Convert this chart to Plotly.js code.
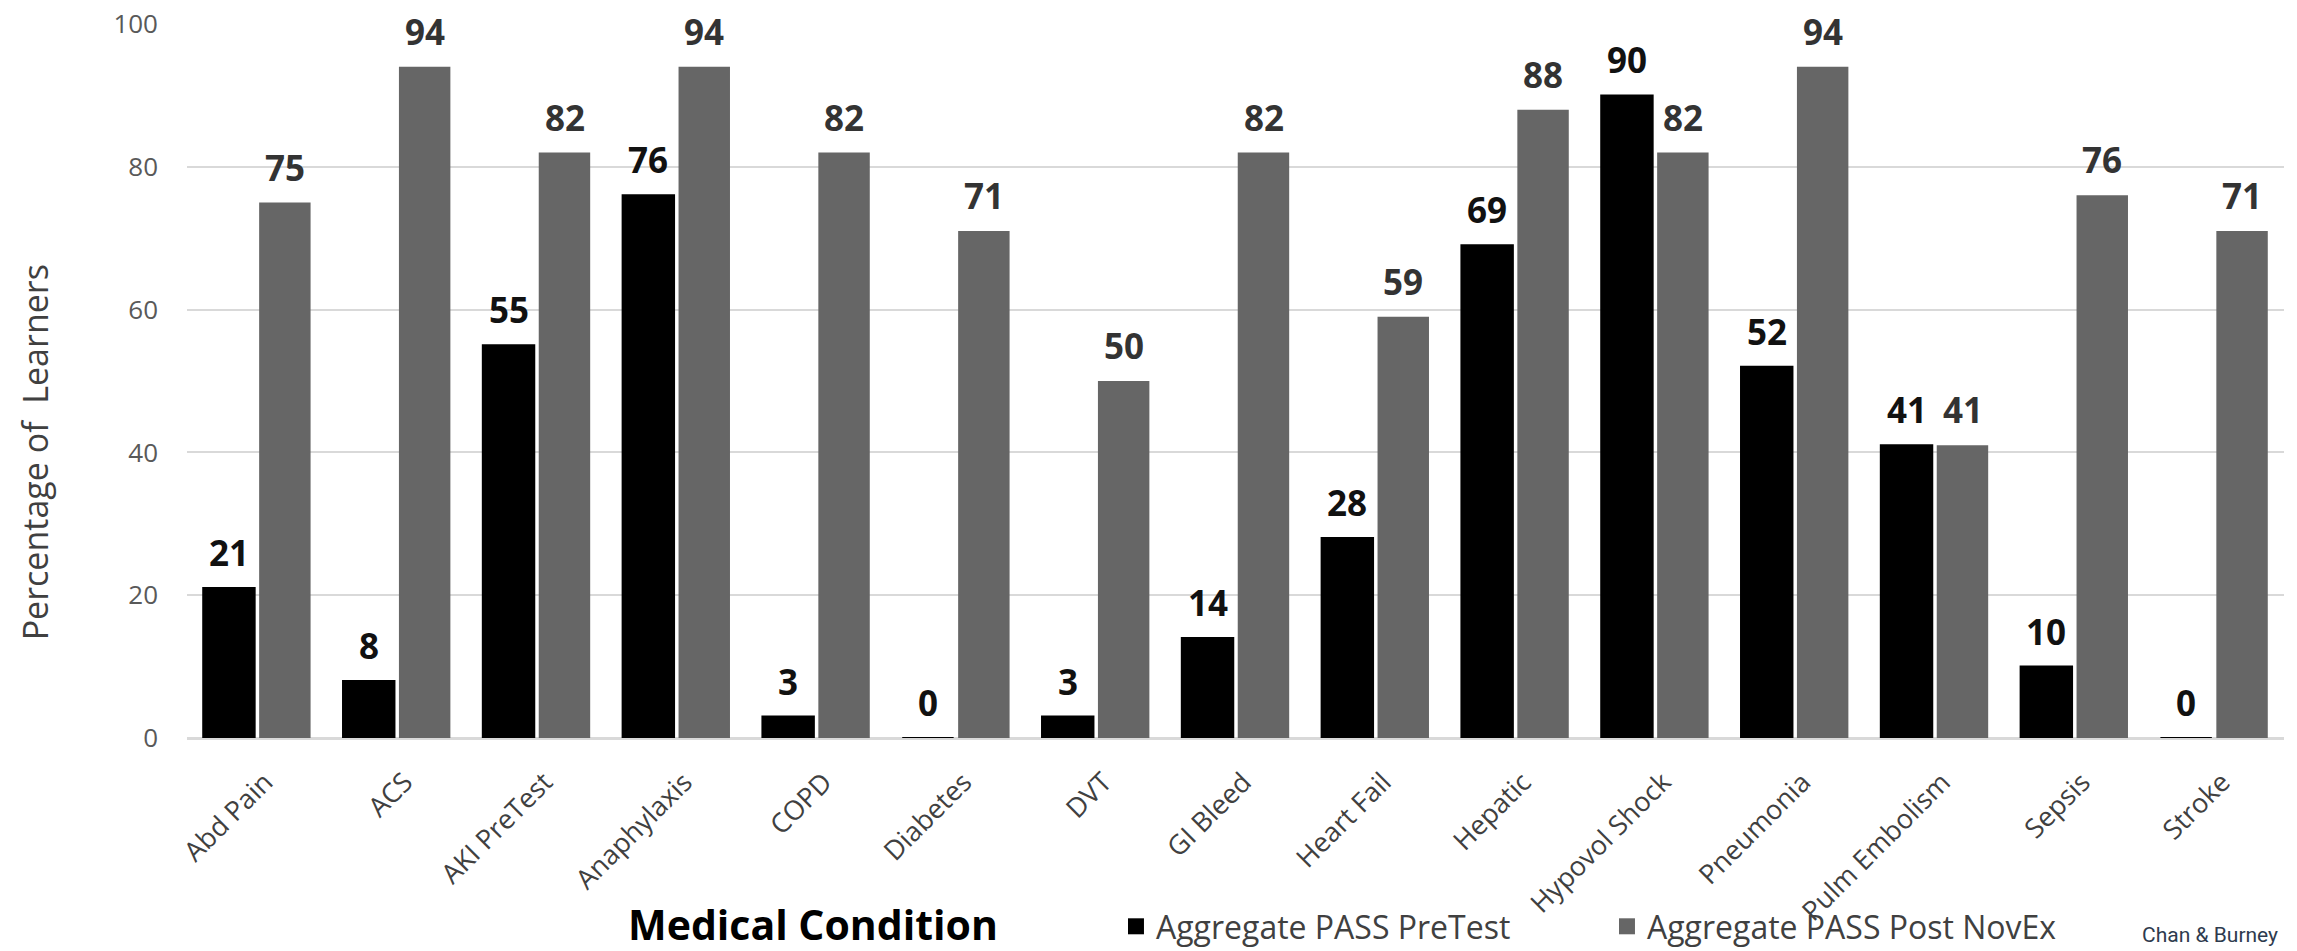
<!DOCTYPE html>
<html>
<head>
<meta charset="utf-8">
<script src="https://cdn.plot.ly/plotly-3.0.1.min.js"></script>
<style>html,body{margin:0;padding:0;background:#fff;}#chart{width:2297px;height:951px;}</style>
</head>
<body>
<div id="chart"></div>
<script>
const categories = ["Abd Pain","ACS","AKI PreTest","Anaphylaxis","COPD","Diabetes","DVT","GI Bleed","Heart Fail","Hepatic","Hypovol Shock","Pneumonia","Pulm Embolism","Sepsis","Stroke"];
const preTest = [21, 8, 55, 76, 3, 0, 3, 14, 28, 69, 90, 52, 41, 10, 0];
const postNovEx = [75, 94, 82, 94, 82, 71, 50, 82, 59, 88, 82, 94, 41, 76, 71];
const seriesNames = ["Aggregate PASS PreTest", "Aggregate PASS Post NovEx"];
const seriesColors = ['#000000', '#666666'];
const yTicks = [0, 20, 40, 60, 80, 100];

const FONT = "Open Sans, Noto Sans, sans-serif";

const traces = [
  {type:'bar', name:seriesNames[0], x:categories, y:preTest, showlegend:false, legendgroup:'pre',
   marker:{color:seriesColors[0], line:{color:seriesColors[0], width:2}}, hoverinfo:'x+y'},
  {type:'bar', name:seriesNames[1], x:categories, y:postNovEx, showlegend:false, legendgroup:'post',
   marker:{color:seriesColors[1], line:{width:0}}, hoverinfo:'x+y'},
  // legend keys (square swatches) for the two bar series
  {type:'scatter', mode:'markers', name:seriesNames[0], x:[null], y:[null], legendgroup:'pre',
   marker:{symbol:'square', size:20, color:seriesColors[0]}, hoverinfo:'skip'},
  {type:'scatter', mode:'markers', name:seriesNames[1], x:[null], y:[null], legendgroup:'post',
   marker:{symbol:'square', size:20, color:seriesColors[1]}, hoverinfo:'skip'}
];

const annotations = [];
categories.forEach((c,i)=>{
  annotations.push({x:c, y:preTest[i], xref:'x', yref:'y', text:String(preTest[i]), showarrow:false,
    xanchor:'center', yanchor:'bottom', xshift:-28, yshift:10,
    font:{family:FONT, size:35, color:'#111111', weight:700}});
  annotations.push({x:c, y:postNovEx[i], xref:'x', yref:'y', text:String(postNovEx[i]), showarrow:false,
    xanchor:'center', yanchor:'bottom', xshift:28, yshift:10,
    font:{family:FONT, size:35, color:'#333333', weight:700}});
});
annotations.push({text:'Percentage of&nbsp; Learners', xref:'paper', yref:'paper', x:-0.0725, y:0.40,
  xanchor:'center', yanchor:'middle', textangle:-90, showarrow:false,
  font:{family:FONT, size:34, color:'#404040'}});
annotations.push({text:'Medical Condition', xref:'paper', yref:'paper', x:0.2985, y:-0.26,
  xanchor:'center', yanchor:'middle', showarrow:false,
  font:{family:FONT, size:41, color:'#000000', weight:700}});
annotations.push({text:'Chan &amp; Burney', xref:'paper', yref:'paper', x:0.9313, y:-0.2955,
  xanchor:'left', yanchor:'bottom', showarrow:false,
  font:{family:'Roboto, sans-serif', size:21, color:'#2e3b4e'}});

const layout = {
  width:2297, height:951,
  margin:{l:187, r:13, t:24, b:213, autoexpand:false},
  paper_bgcolor:'#ffffff', plot_bgcolor:'#ffffff',
  font:{family:FONT, color:'#404040'},
  barmode:'group', bargap:0.2, bargroupgap:0.08,
  showlegend:true,
  legend:{orientation:'h', x:0.443, y:-0.264, xanchor:'left', yanchor:'middle',
    font:{family:FONT, size:32, color:'#404040'}, entrywidth:446, entrywidthmode:'pixels',
    itemwidth:30, bgcolor:'rgba(0,0,0,0)', itemclick:false, itemdoubleclick:false},
  xaxis:{type:'category', tickangle:-45, tickfont:{family:FONT, size:27, color:'#404040'},
    showgrid:false, showline:false, ticks:'', ticklabelstandoff:22, ticklabelshift:8, automargin:false},
  yaxis:{range:[0,100], tickvals:yTicks, ticktext:yTicks.map(String), showgrid:true,
    gridcolor:'#d9d9d9', gridwidth:2, zeroline:true, zerolinecolor:'#d9d9d9', zerolinewidth:3,
    tickfont:{family:FONT, size:26, color:'#595959'}, ticks:'', ticklabelstandoff:28, fixedrange:true, automargin:false},
  annotations:annotations
};

Plotly.newPlot('chart', traces, layout, {displayModeBar:false, staticPlot:true});
</script>
</body>
</html>
